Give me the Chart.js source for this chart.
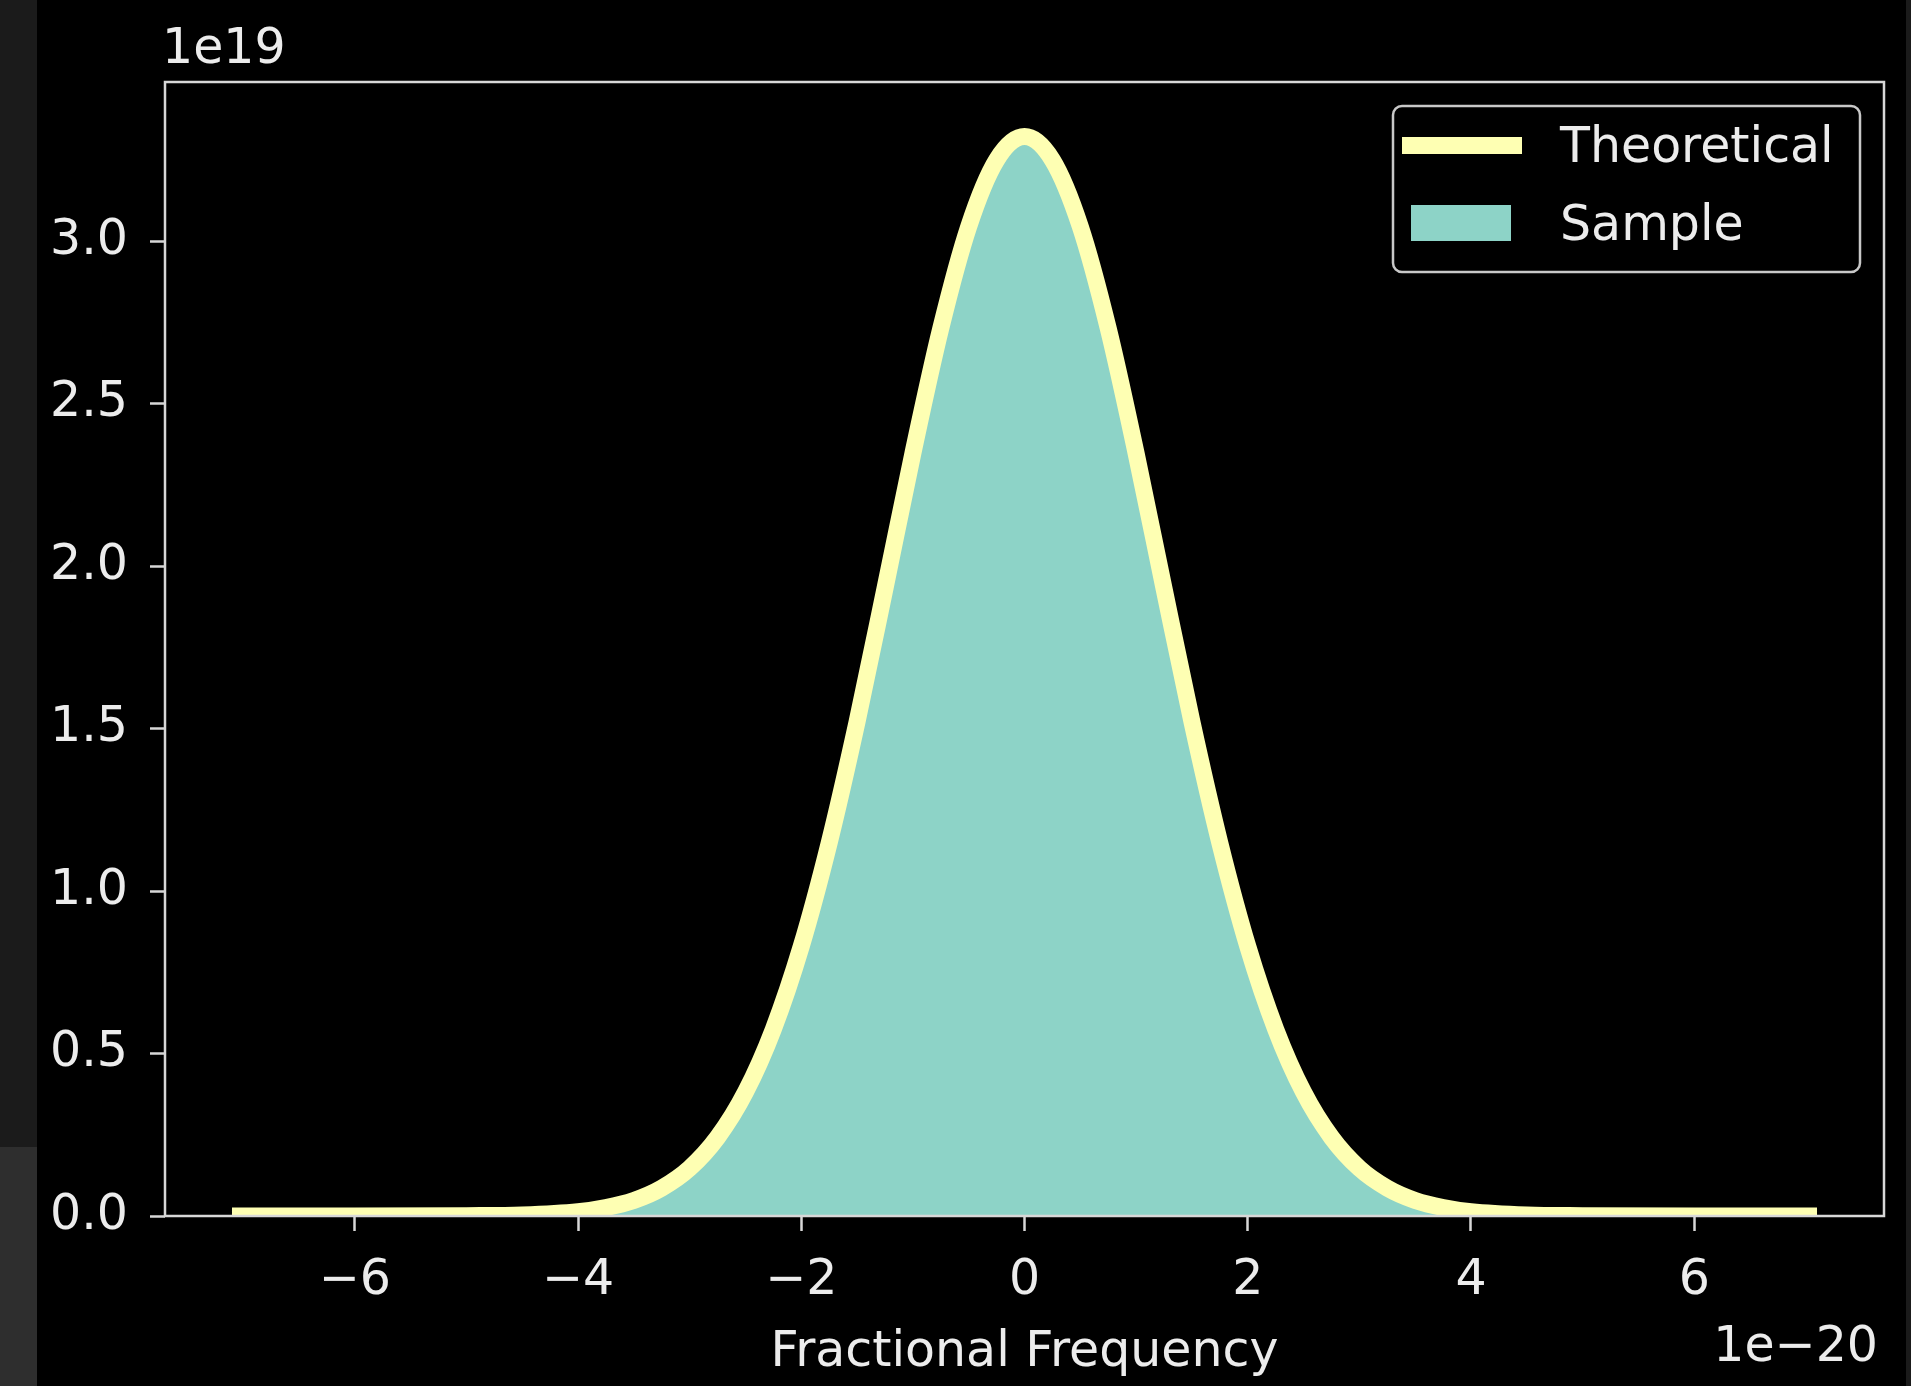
<!DOCTYPE html>
<html>
<head>
<meta charset="utf-8">
<title>Fractional Frequency</title>
<script src="https://cdn.jsdelivr.net/npm/chart.js@4.4.1/dist/chart.umd.min.js"></script>
<style>
    html, body { margin: 0; padding: 0; background: #000; overflow: hidden; }
    .strip { position: absolute; }
    #chart { position: absolute; left: 0; top: 0; }
</style>
</head>
<body>
<div class="strip" style="left:0;top:0;width:37px;height:1147px;background:#1b1b1b"></div>
<div class="strip" style="left:0;top:1147px;width:37px;height:239px;background:#2e2e2e"></div>
<div class="strip" style="left:1906px;top:0;width:5px;height:1386px;background:#1b1b1b"></div>
<canvas id="chart" width="1911" height="1386"></canvas>
<script>
// Theoretical curve (x in units of 1e-20, density in units of 1e19)
const theoX = [-7.1, -6, -5, -4.5, -4, -3.75, -3.5, -3.25, -3, -2.75, -2.5, -2.25, -2, -1.75, -1.5, -1.25, -1, -0.75, -0.5, -0.25,
               0, 0.25, 0.5, 0.75, 1, 1.25, 1.5, 1.75, 2, 2.25, 2.5, 2.75, 3, 3.25, 3.5, 3.75, 4, 4.5, 5, 6, 7.1];
const theoY = [0.00, 0.00, 0.001, 0.003, 0.013, 0.026, 0.048, 0.086, 0.147, 0.242, 0.381, 0.575, 0.830, 1.148, 1.521, 1.931, 2.347, 2.732, 3.045, 3.250,
               3.322, 3.250, 3.045, 2.732, 2.347, 1.931, 1.521, 1.148, 0.830, 0.575, 0.381, 0.242, 0.147, 0.086, 0.048, 0.026, 0.013, 0.003, 0.001, 0.00, 0.00];

// Sample histogram (bin centres and densities)
const sampleX = [-4, -3.75, -3.5, -3.25, -3, -2.75, -2.5, -2.25, -2, -1.75, -1.5, -1.25, -1, -0.75, -0.5, -0.25,
                 0, 0.25, 0.5, 0.75, 1, 1.25, 1.5, 1.75, 2, 2.25, 2.5, 2.75, 3, 3.25, 3.5, 3.75, 4];
const sampleY = [0.012, 0.025, 0.047, 0.085, 0.146, 0.241, 0.380, 0.573, 0.829, 1.147, 1.520, 1.930, 2.346, 2.731, 3.044, 3.249,
                 3.320, 3.249, 3.044, 2.731, 2.346, 1.930, 1.520, 1.147, 0.829, 0.573, 0.380, 0.241, 0.146, 0.085, 0.047, 0.025, 0.012];

const xTicks = [-6, -4, -2, 0, 2, 4, 6];
const yTicks = [0, 0.5, 1, 1.5, 2, 2.5, 3];

const textColor = '#ececec';
const frameColor = '#d8d8d8';
const fontFamily = "'DejaVu Sans', sans-serif";
const fontSize = 49;

function minus(v) {
    return v < 0 ? '\u2212' + Math.abs(v) : String(v);
}

function toPoints(xs, ys) {
    return xs.map((x, i) => ({ x: x, y: ys[i] }));
}

// spines, offset texts and a matplotlib-like legend
const decorations = {
    id: 'decorations',
    afterDatasetsDraw(chart) {
        const ctx = chart.ctx;
        const ca = chart.chartArea;
        ctx.save();
        ctx.strokeStyle = frameColor;
        ctx.lineWidth = 2.5;
        ctx.strokeRect(ca.left, ca.top, ca.right - ca.left, ca.bottom - ca.top);

        ctx.fillStyle = textColor;
        ctx.font = fontSize + 'px ' + fontFamily;
        ctx.textBaseline = 'middle';
        ctx.textAlign = 'left';
        ctx.fillText('1e19', ca.left - 3, ca.top - 32);
        ctx.textAlign = 'right';
        ctx.fillText('1e\u221220', ca.right - 6, ca.bottom + 132);

        // legend box
        const lx = ca.right - 491, ly = ca.top + 24, lw = 467, lh = 166;
        ctx.beginPath();
        ctx.roundRect(lx, ly, lw, lh, 9);
        ctx.fillStyle = '#000';
        ctx.fill();
        ctx.strokeStyle = '#c8c8c8';
        ctx.lineWidth = 2.5;
        ctx.stroke();

        const ds = chart.data.datasets;
        // line entry
        ctx.fillStyle = ds[0].borderColor;
        ctx.fillRect(lx + 9, ly + 31, 120, 17);
        // patch entry
        ctx.fillStyle = ds[1].backgroundColor;
        ctx.fillRect(lx + 18, ly + 99, 100, 36);

        ctx.fillStyle = textColor;
        ctx.textAlign = 'left';
        ctx.fillText(ds[0].label, lx + 167, ly + 43);
        ctx.fillText(ds[1].label, lx + 167, ly + 121);
        ctx.restore();
    }
};

const ctx = document.getElementById('chart').getContext('2d');
const chart = new Chart(ctx, {
    type: 'line',
    data: {
        datasets: [
            {
                label: 'Theoretical',
                data: toPoints(theoX, theoY),
                borderColor: '#feffb3',
                backgroundColor: '#feffb3',
                borderWidth: 17,
                pointRadius: 0,
                fill: false,
                cubicInterpolationMode: 'monotone',
                clip: 0
            },
            {
                label: 'Sample',
                data: toPoints(sampleX, sampleY),
                borderColor: '#8dd3c7',
                backgroundColor: '#8dd3c7',
                borderWidth: 0,
                pointRadius: 0,
                fill: 'origin',
                cubicInterpolationMode: 'monotone',
                clip: 0
            }
        ]
    },
    options: {
        responsive: false,
        devicePixelRatio: 1,
        animation: false,
        layout: {
            padding: { top: 82, right: 27, left: 0, bottom: 0 }
        },
        plugins: {
            legend: { display: false },
            tooltip: { enabled: false }
        },
        scales: {
            x: {
                type: 'linear',
                min: -7.7,
                max: 7.7,
                afterBuildTicks: (scale) => { scale.ticks = xTicks.map(v => ({ value: v })); },
                afterFit: (scale) => { scale.height = 170; },
                ticks: {
                    color: textColor,
                    font: { family: fontFamily, size: fontSize },
                    padding: 21,
                    maxRotation: 0,
                    callback: (v) => minus(v)
                },
                grid: {
                    drawOnChartArea: false,
                    tickLength: 15,
                    tickColor: frameColor,
                    tickWidth: 2.5
                },
                border: { display: false },
                title: {
                    display: true,
                    text: 'Fractional Frequency',
                    color: textColor,
                    font: { family: fontFamily, size: fontSize },
                    padding: { top: 0, bottom: 3 }
                }
            },
            y: {
                min: 0,
                max: 3.49,
                afterBuildTicks: (scale) => { scale.ticks = yTicks.map(v => ({ value: v })); },
                afterFit: (scale) => { scale.width = 165; },
                ticks: {
                    color: textColor,
                    font: { family: fontFamily, size: fontSize },
                    padding: 22,
                    callback: (v) => v.toFixed(1)
                },
                grid: {
                    drawOnChartArea: false,
                    tickLength: 15,
                    tickColor: frameColor,
                    tickWidth: 2.5
                },
                border: { display: false }
            }
        }
    },
    plugins: [decorations]
});
</script>
</body>
</html>
